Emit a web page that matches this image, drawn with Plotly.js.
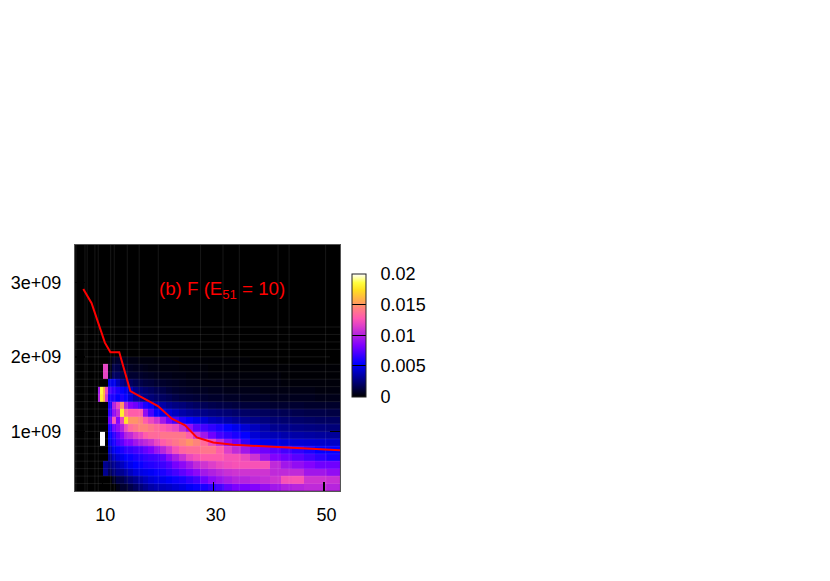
<!DOCTYPE html>
<html>
<head>
<meta charset="utf-8">
<script src="https://cdn.plot.ly/plotly-3.0.1.min.js"></script>
<style>body { margin: 0; background: #fff; }</style>
</head>
<body>
<div id="plotArea" style="width:830px;height:581px;"></div>
<script>
// cell edges of the map (x = mass, y in units of 1e9)
var xEdges = [9.15, 9.6, 10.05, 10.5, 10.96, 11.7, 12.4, 13.1, 13.85, 14.6, 15.5, 16.4, 17.3, 18.2, 19.3, 20.4, 21.45, 22.5, 23.8, 25.05, 26.3, 27.6, 29.05, 30.5, 31.9, 33.4, 35, 36.6, 38.4, 40.25, 42.2, 44.2, 46.3, 48.4, 50.55, 52.9];
var yEdges = [0.2e9, 0.3e9, 0.4e9, 0.5e9, 0.6e9, 0.7e9, 0.8e9, 0.9e9, 1.0e9, 1.1e9, 1.2e9, 1.3e9, 1.4e9, 1.5e9, 1.6e9, 1.7e9, 1.8e9, 1.9e9, 2.0e9, 2.1e9];

// map values in units of 0.001, one list per row from the bottom
var row02 = [0,0,0,0, 0,0,.5,1,1, 1.5,2,2.5,3,3.5, 3.8,4,4.2,4.5,4.8, 5.2,5.6,6,6.5,7, 7.8,8.3,8.3,8.5,9, 9.5,10,10.2,10.5,10.5, 10.2];
var row03 = [0,0,0,0, 0,.8,1.5,1.5,2, 2.5,3,3.5,4,4.5, 4.8,5,5.3,5.7,6, 6.5,7,8,8.8,9.3, 9.8,10.2,10.2,10.5,10.7, 11,12.5,12.6,11,11, 10.8];
var row04 = [0,0,3,3, 1.8,2.5,3,3,3.5, 4,4.6,4.8,5,5.2, 5.6,6,6.5,7,7.6, 8.2,8.8,9.6,10,10.4, 10.8,11,11,11,11, 10.5,10.5,10.5,9.5,9.5, 9];
var row05 = [0,0,3,3, 2.5,3,3.5,4,4.6, 5,5.4,5.6,6,6.2, 6.4,6.8,7.3,8.2,8.8, 9.6,10.5,11,11.5,12, 12.3,12.5,12.5,12.5,12.5, 10.5,9.5,9,8.5,8, 8];
var row06 = [0,0,0,0, 3,4,4.6,5,5.5, 5.6,6,6.2,6.6,6.8, 7,7.6,8.8,9.8,10.8, 12,12.5,13,13,13, 12.5,12.5,12,11,9.5, 8.5,8,7.5,7,6.5, 6];
var row07 = [0,0,0,0, 4,5,5.6,6,6.5, 6.6,7,7.2,7.8,8.3, 9.3,10.3,11.3,12.5,13.3, 13.6,13.6,14,14,13, 11.5,10.5,9.5,8.5,8, 7.5,7,6.5,6,5.5, 5.5];
var row08 = [0,25,25,0, 5,6,7,7.5,8.5, 8.6,9.5,10,10.5,11, 12,13,13.5,14,14.5, 15,14.5,13.5,12,10.5, 9,8,6.5,5.5,5, 4.8,4.6,4.5,4.4,4.3, 4.2];
var row09 = [0,25,25,0, 5.5,6.5,7.5,8.5,10, 10.5,11.5,12,13,13.5, 13.5,14,14,14,14, 13,11,9.5,8,7, 6.5,6,5.5,4.5,4, 3.8,3.6,3.5,3.4,3.3, 3.2];
var row10 = [0,0,0,0, 6,8,9,10,12, 13.5,14,14.5,14.5,14, 13.5,13,12.5,12,10.5, 9,7.5,7,6.5,6, 5.5,5,4.5,4,3.5, 3,2.9,2.8,2.7,2.6, 2.5];
var row11 = [0,0,0,0, 8,12.5,8.5,12,17.5, 15,15,14.5,13,12, 11,9.5,8,7,6, 5.5,5,4.5,4,3.8, 3.5,3.2,3,2.8,2.6, 2.4,2.3,2.2,2.1,2, 2];
var row12 = [0,0,0,0, 6.5,9,10.5,18,14, 13,13,13,9,7, 5.5,5,4.5,4,3.5, 3.2,3,2.8,2.6,2.5, 2.4,2.2,2.1,2,1.9, 1.8,1.7,1.6,1.5,1.5, 1.4];
var row13 = [0,0,0,0, 6,10,12,15,10, 8.5,8,7,6,5.5, 4,3.5,3,2.7,2.5, 2.2,2,1.8,1.6,1.5, 1.4,1.3,1.2,1.2,1.1, 1,1,1,.9,.9, .9];
var row14 = [10,18,16,11, 6,6,5.5,6,5.5, 4.5,3.5,3,2.8,2.5, 2.2,2,1.8,1.5,1.3, 1.2,1.1,1,.9,.9, .8,.8,.7,.7,.7, .6,.6,.6,.6,.5, .5];
var row15 = [9.5,18.5,16,12, 7,6.5,6,5.5,5, 4,3,2.5,2.2,2, 1.7,1.5,1.2,1,.9, .8,.7,.7,.6,.6, .5,.5,.5,.5,.4, .4,.4,.4,.4,.3, .3];
var row16 = [0,0,0,0, 5,5,4,3,2.5, 2,1.7,1.5,1.3,1.2, 1,.9,.8,.7,.6, .5,.5,.4,.4,.4, .3,.3,.3,.3,.3, .3,.2,.2,.2,.2, .2];
var row17 = [0,0,11.8,11.8, .8,2,2,1.5,1.2, 1,1,.9,.8,.7, .6,.5,.5,.4,.4, .3,.3,.3,.2,.2, .2,.2,.2,.2,.2, .2,.1,.1,.1,.1, .1];
var row18 = [0,0,11.8,11.8, .4,1.5,1.5,1,.8, .7,.6,.6,.5,.4, .4,.3,.3,.3,.2, .2,.2,.2,.1,.1, .1,.1,.1,.1,.1, .1,.1,.1,.1,.1, .1];
var row19 = [0,0,0,0, .2,.8,1,.7,.5, .4,.4,.3,.3,.3, .2,.2,.2,.2,.1, .1,.1,.1,.1,.1, .1,.1,.1,0,0, 0,0,0,0,0, 0];

// red curve
var lineX = [6.5, 8.0, 10.4, 11.4, 13.0, 13.85, 15.0, 18.0, 20.0, 22.5, 24.9, 27.0, 30.0, 33.6, 38.4, 43.9, 52.9];
var lineY = [2.91e9, 2.72e9, 2.19e9, 2.06e9, 2.06e9, 1.83e9, 1.54e9, 1.42e9, 1.34e9, 1.17e9, 1.08e9, 0.92e9, 0.85e9, 0.82e9, 0.80e9, 0.775e9, 0.745e9];

// faint seams in the map
var seamX = [5.17, 6.8, 7.2, 8.6, 9.2, 11.45, 12.1, 14.45, 16.6, 20.05, 27.7, 31.75, 34.7, 41.7, 43.7, 50.3];
var seamY = [0.3e9, 0.4e9, 0.5e9, 0.6e9, 0.7e9, 0.8e9, 0.9e9, 1.0e9, 1.1e9, 1.2e9, 1.3e9, 1.4e9, 1.5e9, 1.6e9, 1.7e9, 1.8e9, 1.9e9, 2.0e9, 2.1e9, 2.2e9, 2.3e9, 2.4e9];

var xTicks = [10, 30, 50];
var xLabels = ["\u00a010", "\u00a030", "\u00a050"];
var yTicks = [1e9, 2e9, 3e9];
var yLabels = ["1e+09", "2e+09", "3e+09"];
var barTicks = [0, 5, 10, 15, 20];
var barLabels = ["\u00a0\u00a00", "\u00a0\u00a00.005", "\u00a0\u00a00.01", "\u00a0\u00a00.015", "\u00a0\u00a00.02"];

var xRange = [5, 52.9];
var yRange = [0.2e9, 3.5e9];

var palette = [
	[0, "#000000"],
	[0.125, "#000078"],
	[0.27, "#0000ff"],
	[0.42, "#8000ff"],
	[0.5, "#b020e0"],
	[0.58, "#e040c8"],
	[0.64, "#ff58b0"],
	[0.72, "#ff8080"],
	[0.78, "#ffa850"],
	[0.87, "#ffe020"],
	[0.93, "#ffff40"],
	[1, "#ffffff"]
];

var heat = {
	type: "heatmap",
	x: xEdges,
	y: yEdges,
	z: [row02, row03, row04, row05, row06, row07, row08, row09, row10, row11, row12, row13, row14, row15, row16, row17, row18, row19],
	zmin: 0,
	zmax: 20,
	colorscale: palette,
	zsmooth: false,
	hoverinfo: "skip",
	colorbar: {
		x: (352 - 75) / 265,
		xanchor: "left",
		y: (491.5 - 397) / 246.5,
		yanchor: "bottom",
		thickness: 14,
		lenmode: "pixels",
		len: 123,
		xpad: 0,
		ypad: 0,
		outlinecolor: "#222",
		outlinewidth: 1,
		ticks: "inside",
		ticklen: 14,
		tickcolor: "#000",
		tickwidth: 1,
		tickmode: "array",
		tickvals: barTicks,
		ticktext: barLabels,
		tickfont: { family: "Liberation Sans", size: 18, color: "#000" }
	}
};

var gx = [], gy = [];
seamX.forEach(function (v) { gx.push(v, v, null); gy.push(yRange[0], yRange[1], null); });
seamY.forEach(function (v) { gx.push(xRange[0], xRange[1], null); gy.push(v, v, null); });
var seams = {
	type: "scatter",
	mode: "lines",
	x: gx,
	y: gy,
	line: { color: "rgba(255,255,255,0.09)", width: 1 },
	hoverinfo: "skip",
	showlegend: false
};

var curve = {
	type: "scatter",
	mode: "lines",
	x: lineX,
	y: lineY,
	line: { color: "#ff0000", width: 2 },
	showlegend: false
};

var layout = {
	width: 830,
	height: 581,
	margin: { l: 75, r: 490, t: 245, b: 90 },
	paper_bgcolor: "#fff",
	plot_bgcolor: "#000",
	font: { family: "Liberation Sans", size: 18, color: "#000" },
	showlegend: false,
	xaxis: {
		range: xRange,
		tickmode: "array",
		tickvals: xTicks,
		ticktext: xLabels,
		ticks: "inside",
		ticklen: 9,
		tickwidth: 1.5,
		tickcolor: "#000",
		showgrid: false,
		zeroline: false,
		showline: true,
		linecolor: "#555",
		linewidth: 1,
		mirror: "ticks",
		ticklabelstandoff: 7
	},
	yaxis: {
		range: yRange,
		tickmode: "array",
		tickvals: yTicks,
		ticktext: yLabels,
		ticks: "inside",
		ticklen: 10,
		tickwidth: 1.5,
		tickcolor: "#000",
		showgrid: false,
		zeroline: false,
		showline: true,
		linecolor: "#555",
		linewidth: 1,
		mirror: "ticks",
		ticklabelstandoff: 9
	},
	annotations: [{
		x: 31.6,
		y: 2.89e9,
		xref: "x",
		yref: "y",
		text: "(b) F (E<sub>51</sub> = 10)",
		showarrow: false,
		font: { family: "Liberation Sans", size: 18.7, color: "#ff0000" }
	}]
};

Plotly.newPlot("plotArea", [heat, seams, curve], layout, { displayModeBar: false, staticPlot: true });
</script>
</body>
</html>
